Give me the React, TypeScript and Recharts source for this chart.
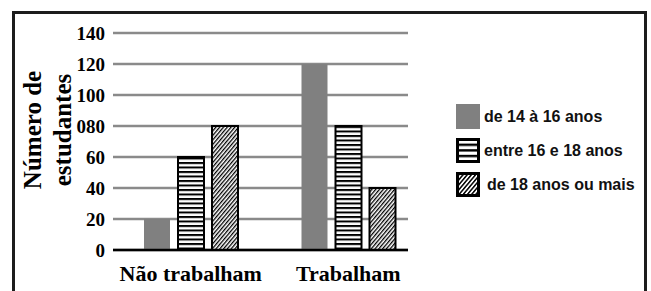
import { BarChart, Bar, XAxis, YAxis, CartesianGrid } from "recharts";

const categories = ["Não trabalham", "Trabalham"];
const de14a16 = [20, 120];
const entre16e18 = [60, 80];
const de18mais = [80, 40];
const seriesNames = ["de 14 à 16 anos", "entre 16 e 18 anos", "de 18 anos ou mais"];
const yTicks = [0, 20, 40, 60, 80, 100, 120, 140];
const yTickLabels = ["0", "20", "40", "60", "080", "100", "120", "140"];

const data = categories.map((name, i) => ({
  name,
  a: de14a16[i],
  b: entre16e18[i],
  c: de18mais[i],
}));

const serif = "'Liberation Serif', 'Times New Roman', serif";
const sans = "'Liberation Sans', Arial, sans-serif";

// little svg swatches for the legend, same look as the bars
function Swatch({ kind }: { kind: number }) {
  return (
    <svg width={24} height={25} style={{ display: "block" }}>
      <defs>
        <pattern id={"lh" + kind} width="6" height="5.6" patternUnits="userSpaceOnUse">
          <rect width="6" height="5.6" fill="#fff" />
          <rect y="0" width="6" height="2.4" fill="#000" />
        </pattern>
        <pattern
          id={"ld" + kind}
          width="3.2"
          height="6"
          patternUnits="userSpaceOnUse"
          patternTransform="rotate(40)"
        >
          <rect width="3.2" height="6" fill="#fff" />
          <rect width="1.5" height="6" fill="#000" />
        </pattern>
      </defs>
      {kind === 0 && <rect x={0} y={0} width={24} height={25} fill="#808080" />}
      {kind === 1 && (
        <rect x={1.5} y={1.5} width={21} height={22} fill={"url(#lh" + kind + ")"} stroke="#000" strokeWidth={3} />
      )}
      {kind === 2 && (
        <rect x={1.5} y={1.5} width={21} height={22} fill={"url(#ld" + kind + ")"} stroke="#000" strokeWidth={3} />
      )}
    </svg>
  );
}

export default function App() {
  return (
    <div
      style={{
        position: "absolute",
        left: 0,
        top: 0,
        width: 651,
        height: 291,
        overflow: "hidden",
        background: "#fff",
      }}
    >
      {/* frame, open at the bottom */}
      <div
        style={{
          position: "absolute",
          left: 12,
          top: 11,
          width: 635,
          height: 300,
          border: "3px solid #1c1c1c",
          borderBottom: "none",
          boxSizing: "border-box",
        }}
      />

      <BarChart
        width={651}
        height={291}
        data={data}
        margin={{ top: 33, right: 243, bottom: 0, left: 0 }}
        barSize={26}
        barGap={8}
        style={{ position: "absolute", left: 0, top: 0 }}
      >
        <defs>
          <pattern id="hstripe" width="6" height="4.5" patternUnits="userSpaceOnUse">
            <rect width="6" height="4.5" fill="#fff" />
            <rect y="0" width="6" height="2" fill="#000" />
          </pattern>
          <pattern
            id="diag"
            width="2.9"
            height="6"
            patternUnits="userSpaceOnUse"
            patternTransform="rotate(40)"
          >
            <rect width="2.9" height="6" fill="#fff" />
            <rect width="1.3" height="6" fill="#000" />
          </pattern>
        </defs>

        <CartesianGrid vertical={false} stroke="#8a8a8a" strokeWidth={2.5} />

        <XAxis
          dataKey="name"
          padding={{ left: -1, right: -19 }}
          tickLine={false}
          tickSize={0}
          tickMargin={15}
          axisLine={{ stroke: "#000", strokeWidth: 2.5 }}
          height={41}
          tick={{ fontFamily: serif, fontSize: 22, fontWeight: 700, fill: "#000" }}
        />
        <YAxis
          domain={[0, 140]}
          ticks={yTicks}
          width={113}
          axisLine={false}
          tickLine={false}
          tickSize={0}
          tickMargin={8}
          interval={0}
          tickFormatter={(v: number) => yTickLabels[yTicks.indexOf(v)]}
          tick={{ fontFamily: serif, fontSize: 19, fontWeight: 700, fill: "#000" }}
        />

        <Bar dataKey="a" name={seriesNames[0]} fill="#808080" isAnimationActive={false} />
        <Bar
          dataKey="b"
          name={seriesNames[1]}
          fill="url(#hstripe)"
          stroke="#000"
          strokeWidth={2}
          isAnimationActive={false}
        />
        <Bar
          dataKey="c"
          name={seriesNames[2]}
          fill="url(#diag)"
          stroke="#000"
          strokeWidth={2}
          isAnimationActive={false}
        />
      </BarChart>

      {/* y axis title, two lines turned on its side */}
      <div
        style={{
          position: "absolute",
          left: 48,
          top: 130,
          width: 160,
          transform: "translate(-50%, -50%) rotate(-90deg)",
          textAlign: "center",
          fontFamily: serif,
          fontWeight: 700,
          fontSize: 25,
          lineHeight: "30px",
          color: "#000",
        }}
      >
        Número de
        <br />
        estudantes
      </div>

      {/* legend */}
      <div style={{ position: "absolute", left: 456, top: 104 }}>
        {seriesNames.map((n, i) => (
          <div
            key={n}
            style={{ display: "flex", alignItems: "center", height: 25, marginBottom: 9 }}
          >
            <Swatch kind={i} />
            <span
              style={{
                marginLeft: i === 2 ? 7 : 4,
                fontFamily: sans,
                fontWeight: 700,
                fontSize: 16,
                color: "#111",
              }}
            >
              {n}
            </span>
          </div>
        ))}
      </div>
    </div>
  );
}
